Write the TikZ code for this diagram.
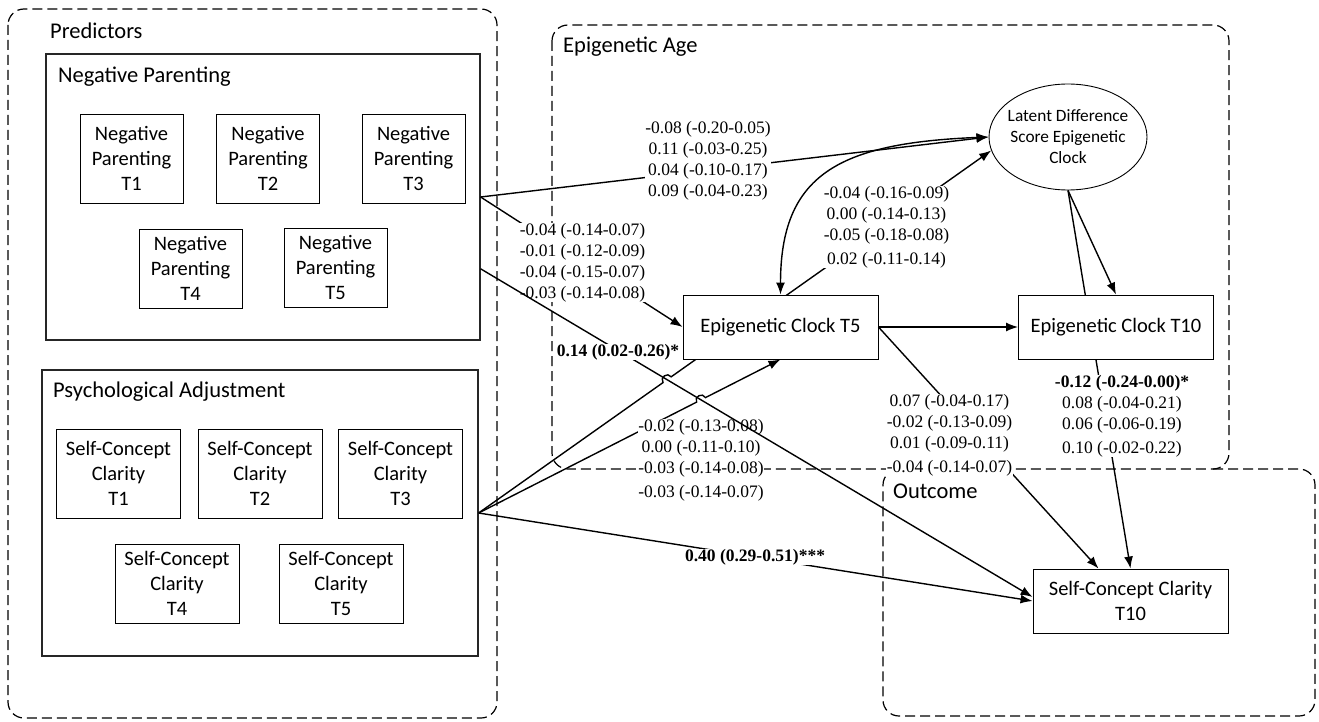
\documentclass[tikz,border=0pt]{standalone}
\usepackage{fontspec}
\setmainfont{Carlito}
\newfontfamily\estfont{Liberation Serif}
\usetikzlibrary{arrows.meta,shapes.geometric,calc,intersections,backgrounds}

\begin{document}
\begin{tikzpicture}[x=1pt,y=-1pt,
        >={Latex[length=12pt,width=9pt]},
        grp/.style={black,dash pattern=on 10pt off 5pt,line width=1.2pt,rounded corners=16pt},
        ttl/.style={anchor=west,inner sep=0pt,font=\fontsize{22.5}{27}\selectfont},
        blk/.style={draw,black!85,line width=1.2pt,minimum width=#1,minimum height=286pt,inner sep=0pt},
        var/.style={draw,line width=0.9pt,fill=white,align=center,inner sep=0pt,font=\fontsize{20.5}{25}\selectfont},
        npv/.style={var,minimum width=103pt,minimum height=#1},
        scv/.style={var,minimum width=124pt,minimum height=#1},
        clk/.style={var,minimum width=195pt,minimum height=64pt},
        lnk/.style={line width=1.4pt},
        est/.style={fill=white,inner sep=0.5pt,align=center,font=\estfont\fontsize{17.5}{21}\selectfont},
        estb/.style={est,font=\estfont\bfseries\fontsize{17.5}{21}\selectfont}]
        \useasboundingbox (0,0) rectangle (1319,722);

        \draw[grp] (8,9) rectangle (497,718);
        \draw[grp] (552,25) rectangle (1229,469);
        \draw[grp] (1213,469) -- (1315,469) -- (1315,716) -- (883,716) -- (883,469) -- (899,469);
        \node[ttl] (tPred) at (50,31) {Predictors};
        \node[ttl] (tEpi) at (563,47) {Epigenetic Age};
        \node[ttl] (tOut) at (893,491) {Outcome};

        \node[blk=434pt] (np) at (263,197) {};
        \node[blk=436pt] (pa) at (260,513) {};
        \node[ttl] (tNP) at (58,77) {Negative Parenting};
        \node[ttl] (tPA) at (53,392) {Psychological Adjustment};

        \node[npv=89pt] (npt1) at (131.5,158.5) {Negative\\Parenting\\T1};
        \node[npv=89pt] (npt2) at (268,158.5) {Negative\\Parenting\\T2};
        \node[npv=89pt] (npt3) at (413.5,158.5) {Negative\\Parenting\\T3};
        \node[npv=79pt] (npt4) at (190.5,268.5) {Negative\\Parenting\\T4};
        \node[npv=79pt] (npt5) at (335.5,267.5) {Negative\\Parenting\\T5};

        \node[scv=89pt] (sct1) at (118.5,473.5) {Self-Concept\\Clarity\\T1};
        \node[scv=89pt] (sct2) at (260,473.5) {Self-Concept\\Clarity\\T2};
        \node[scv=89pt] (sct3) at (400.5,473.5) {Self-Concept\\Clarity\\T3};
        \node[scv=79pt] (sct4) at (177,583.5) {Self-Concept\\Clarity\\T4};
        \node[scv=79pt] (sct5) at (341,583.5) {Self-Concept\\Clarity\\T5};

        \node[var,ellipse,inner sep=-8pt,minimum width=158pt,minimum height=106pt,font=\fontsize{17.3}{21}\selectfont] (ldsc) at (1068,137) {Latent Difference\\Score Epigenetic\\Clock};
        \node[clk] (clk5) at (780.5,327) {Epigenetic Clock T5};
        \node[clk] (clk10) at (1116,327) {Epigenetic Clock T10};
        \node[clk] (sct10) at (1130.5,601) {Self-Concept Clarity\\T10};

        \coordinate (npo) at ($(np.east)!0.5!(np.south east)$);
        \coordinate (scw) at ($(sct10.west)+(0,-4)$);
        \coordinate (scn) at ($(sct10.north)+(-32,0)$);
        \path[name path=npsc] (npo) -- (scw);
        \path[name path=pald] (pa.east) -- (ldsc.190);
        \path[name path=pack] (pa.east) -- (clk5.south);
        \path[name intersections={of=npsc and pald,by=hopA}];
        \path[name intersections={of=npsc and pack,by=hopB}];

        \begin{scope}[on background layer]
        \draw[lnk,->] (pa.east) -- ($(hopA)!5pt!(pa.east)$) to[bend left=90,looseness=1.6] ($(hopA)!5pt!(ldsc.190)$) -- (ldsc.190);
        \draw[lnk,->] (ldsc.south) -- (sct10.north);
        \end{scope}

        \draw[lnk,->] (np.east) -- (ldsc.west);
        \node[est] (eA) at (708,161) {-0.08 (-0.20-0.05)\\0.11 (-0.03-0.25)\\0.04 (-0.10-0.17)\\0.09 (-0.04-0.23)};
        \draw[lnk,->] (np.east) -- (clk5.west);
        \node[est] (eB) at (582.5,262.5) {-0.04 (-0.14-0.07)\\-0.01 (-0.12-0.09)\\-0.04 (-0.15-0.07)\\-0.03 (-0.14-0.08)};
        \draw[lnk,<->] (clk5.north) .. controls +(0,-120) and +(-150,6) .. (ldsc.west);
        \node[est] (eC) at (886.5,227) {-0.04 (-0.16-0.09)\\0.00 (-0.14-0.13)\\-0.05 (-0.18-0.08)\\[3pt]0.02 (-0.11-0.14)};

        \draw[lnk,->] (ldsc.south) -- (clk10.north);
        \draw[lnk,->] (clk5.east) -- (clk10.west);
        \draw[lnk,->] (clk5.east) -- (scn);
        \node[est] (eG) at (949.5,435) {0.07 (-0.04-0.17)\\-0.02 (-0.13-0.09)\\0.01 (-0.09-0.11)\\[3pt]-0.04 (-0.14-0.07)};
        \node[est] (eH) at (1122,416) {\textbf{-0.12 (-0.24-0.00)*}\\0.08 (-0.04-0.21)\\0.06 (-0.06-0.19)\\[3pt]0.10 (-0.02-0.22)};

        \draw[lnk,->] (pa.east) -- ($(hopB)!5pt!(pa.east)$) to[bend left=90,looseness=1.6] ($(hopB)!5pt!(clk5.south)$) -- (clk5.south);
        \node[est] (eE) at (701,460) {-0.02 (-0.13-0.08)\\0.00 (-0.11-0.10)\\-0.03 (-0.14-0.08)\\[3pt]-0.03 (-0.14-0.07)};
        \draw[lnk,->] (pa.east) -- (sct10.west);
        \node[estb] (eF) at (755,557) {0.40 (0.29-0.51)***};
        \draw[lnk,->] (npo) -- (scw);
        \node[estb] (eD) at (618,352) {0.14 (0.02-0.26)*};
\end{tikzpicture}
\end{document}
